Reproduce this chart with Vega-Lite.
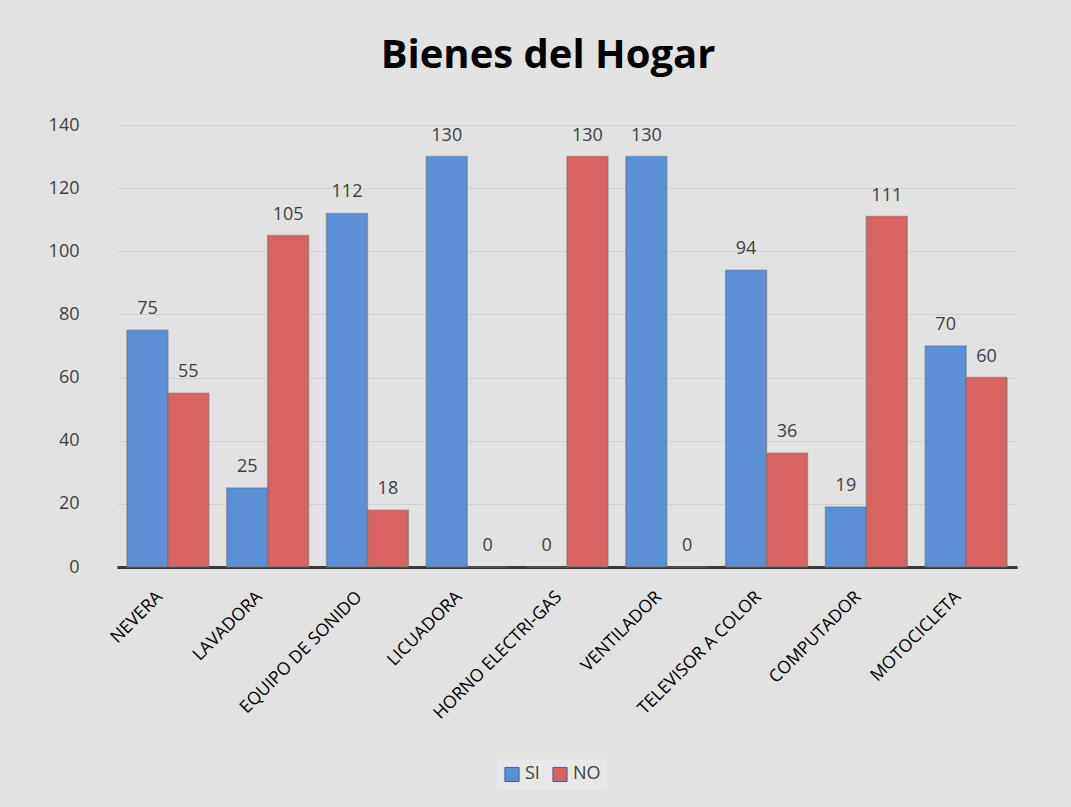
{
  "$schema": "https://vega.github.io/schema/vega-lite/v6.json",
  "width": 900,
  "height": 442,
  "autosize": {"type": "none"},
  "padding": {"left": 117, "top": 125, "right": 54, "bottom": 240},
  "background": "#e2e2e2",
  "config": {
    "font": "Open Sans",
    "view": {"stroke": null}
  },
  "title": {
    "text": "Bienes del Hogar",
    "font": "Open Sans",
    "fontSize": 40,
    "fontWeight": "bold",
    "color": "#000000",
    "anchor": "middle",
    "dx": -19,
    "offset": 40
  },
  "data": {
    "values": [
      {"bien": "NEVERA", "serie": "SI", "valor": 75},
      {"bien": "NEVERA", "serie": "NO", "valor": 55},
      {"bien": "LAVADORA", "serie": "SI", "valor": 25},
      {"bien": "LAVADORA", "serie": "NO", "valor": 105},
      {"bien": "EQUIPO DE SONIDO", "serie": "SI", "valor": 112},
      {"bien": "EQUIPO DE SONIDO", "serie": "NO", "valor": 18},
      {"bien": "LICUADORA", "serie": "SI", "valor": 130},
      {"bien": "LICUADORA", "serie": "NO", "valor": 0},
      {"bien": "HORNO ELECTRI-GAS", "serie": "SI", "valor": 0},
      {"bien": "HORNO ELECTRI-GAS", "serie": "NO", "valor": 130},
      {"bien": "VENTILADOR", "serie": "SI", "valor": 130},
      {"bien": "VENTILADOR", "serie": "NO", "valor": 0},
      {"bien": "TELEVISOR A COLOR", "serie": "SI", "valor": 94},
      {"bien": "TELEVISOR A COLOR", "serie": "NO", "valor": 36},
      {"bien": "COMPUTADOR", "serie": "SI", "valor": 19},
      {"bien": "COMPUTADOR", "serie": "NO", "valor": 111},
      {"bien": "MOTOCICLETA", "serie": "SI", "valor": 70},
      {"bien": "MOTOCICLETA", "serie": "NO", "valor": 60}
    ]
  },
  "encoding": {
    "x": {
      "field": "bien",
      "type": "nominal",
      "sort": null,
      "title": null,
      "scale": {"paddingInner": 0.18, "paddingOuter": 0.1},
      "axis": {
        "labelAngle": -45,
        "labelAlign": "right",
        "labelBaseline": "middle",
        "labelFontSize": 17.5,
        "labelColor": "#000000",
        "labelPadding": 27,
        "domainColor": "#3a3a3a",
        "domainWidth": 3,
        "ticks": false,
        "labelOffset": -8
      }
    },
    "xOffset": {"field": "serie", "type": "nominal", "sort": ["SI", "NO"]},
    "y": {
      "field": "valor",
      "type": "quantitative",
      "title": null,
      "scale": {"domain": [0, 140]},
      "axis": {
        "values": [0, 20, 40, 60, 80, 100, 120, 140],
        "labelFontSize": 18,
        "labelColor": "#404040",
        "labelPadding": 38,
        "domain": false,
        "ticks": false,
        "gridColor": "#d0d0d0",
        "gridWidth": 1
      }
    },
    "color": {
      "field": "serie",
      "type": "nominal",
      "sort": ["SI", "NO"],
      "scale": {"domain": ["SI", "NO"], "range": ["#5b8fd6", "#d96262"]},
      "legend": {
        "title": null,
        "orient": "none",
        "direction": "horizontal",
        "legendX": 380,
        "legendY": 634,
        "symbolType": "square",
        "symbolSize": 200,
        "symbolStrokeColor": "#3b5f99",
        "symbolStrokeWidth": 1,
        "labelFontSize": 18,
        "labelColor": "#404040",
        "columnPadding": 10,
        "fillColor": "#e8e8e8",
        "padding": 6
      }
    }
  },
  "layer": [
    {
      "mark": {"type": "bar", "strokeWidth": 1.5, "stroke": "#6b6b6b", "strokeOpacity": 0.5}
    },
    {
      "mark": {"type": "text", "baseline": "bottom", "dy": -12, "fontSize": 18, "color": "#404040"},
      "encoding": {
        "text": {"field": "valor", "type": "quantitative"},
        "color": {"value": "#404040"}
      }
    }
  ]
}
